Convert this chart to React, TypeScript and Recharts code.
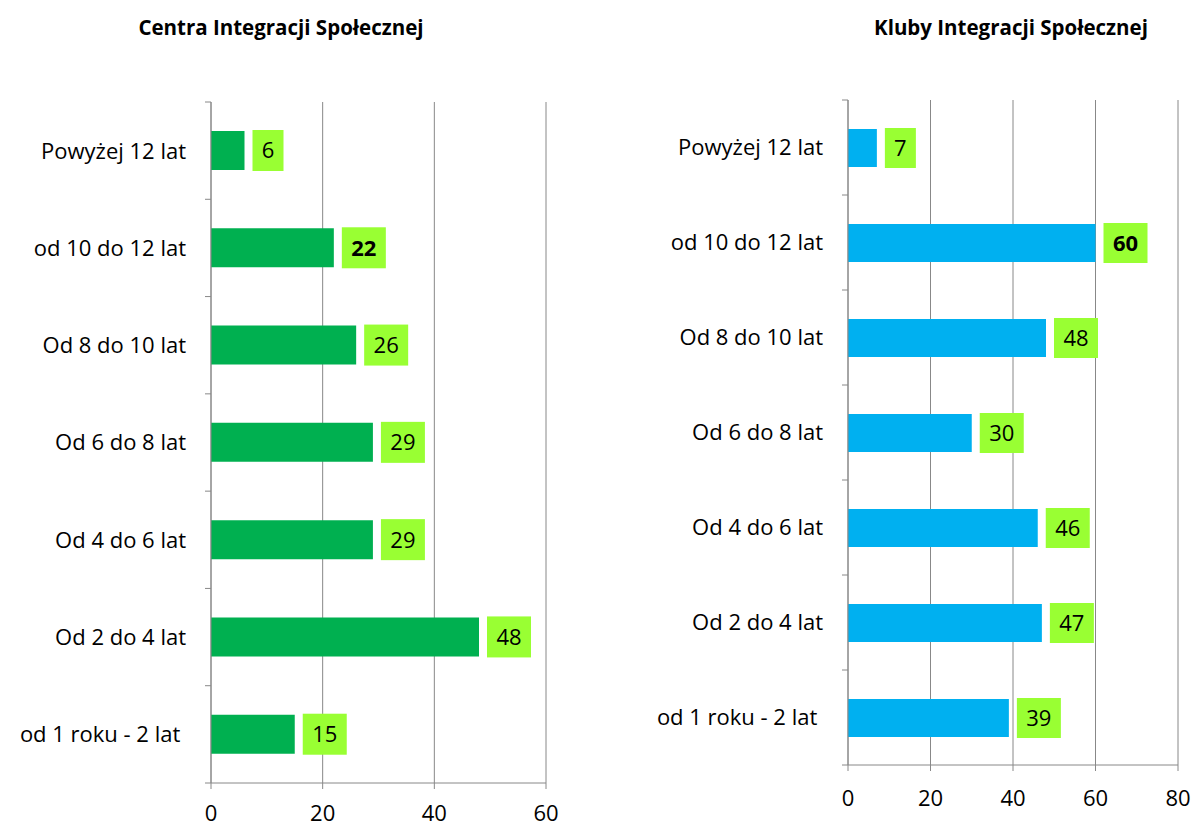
import { BarChart, Bar, XAxis, YAxis, CartesianGrid, LabelList } from 'recharts';

const categories = [
  'Powyżej 12 lat',
  'od 10 do 12 lat',
  'Od 8 do 10 lat',
  'Od 6 do 8 lat',
  'Od 4 do 6 lat',
  'Od 2 do 4 lat',
  'od 1 roku - 2 lat\u00a0',
];
const centraValues = [6, 22, 26, 29, 29, 48, 15];
const klubyValues = [7, 60, 48, 30, 46, 47, 39];
const centraBold = ['od 10 do 12 lat'];
const klubyBold = ['od 10 do 12 lat'];
const centraTicks = [0, 20, 40, 60];
const klubyTicks = [0, 20, 40, 60, 80];

const FONT = '"Open Sans", Lato, sans-serif';
const FS = 22;
const GRID = '#888888';
const LABEL_BG = '#99FF33';

const centraData = categories.map((name, i) => ({ name, value: centraValues[i] }));
const klubyData = categories.map((name, i) => ({ name, value: klubyValues[i] }));

// category tick: label plus the short tick marks between bands
function CategoryTick(props: any) {
  const { x, y, payload, index, visibleTicksCount, gap, fallbackHalf } = props;
  const half = payload && payload.offset ? payload.offset : fallbackHalf;
  const axisX = x + gap;
  return (
    <g>
      <text x={x} y={y} dy="0.36em" textAnchor="end" fontSize={FS} fontFamily={FONT} fill="#000">
        {payload.value}
      </text>
      <line x1={axisX - 6} x2={axisX} y1={y - half} y2={y - half} stroke={GRID} />
      {index === visibleTicksCount - 1 && (
        <line x1={axisX - 6} x2={axisX} y1={y + half} y2={y + half} stroke={GRID} />
      )}
    </g>
  );
}

function makeValueLabel(data: { name: string }[], bold: string[]) {
  return (props: any) => {
    const { x, y, width, height, value, index } = props;
    const txt = String(value);
    const w = txt.length > 1 ? 44 : 31;
    const bx = x + width + 8;
    const isBold = bold.includes(data[index]?.name);
    return (
      <g>
        <rect x={bx} y={y - 1} width={w} height={height + 2} fill={LABEL_BG} />
        <text
          x={bx + w / 2}
          y={y + height / 2}
          dy="0.36em"
          textAnchor="middle"
          fontSize={FS}
          fontFamily={FONT}
          fontWeight={isBold ? 700 : 400}
          fill="#000"
        >
          {txt}
        </text>
      </g>
    );
  };
}

interface PanelProps {
  title: string;
  titleX: number;
  left: number;
  width: number;
  top: number;
  bottom: number;
  right: number;
  axisWidth: number;
  data: { name: string; value: number }[];
  ticks: number[];
  color: string;
  bold: string[];
  barSize: number;
  tickMargin: number;
}

function Panel({ title, titleX, left, width, top, bottom, right, axisWidth, data, ticks, color, bold, barSize, tickMargin }: PanelProps) {
  const height = 828;
  const half = (height - top - bottom) / data.length / 2;
  return (
    <div style={{ position: 'absolute', left, top: 0, width, height }}>
      <div
        style={{
          position: 'absolute',
          left: titleX - left - 200,
          width: 400,
          top: 13,
          textAlign: 'center',
          fontFamily: FONT,
          fontWeight: 700,
          fontSize: 20.5,
          color: '#000',
        }}
      >
        {title}
      </div>
      <BarChart
        layout="vertical"
        width={width}
        height={height}
        data={data}
        margin={{ top, right, bottom: 0, left: 0 }}
      >
        <CartesianGrid vertical horizontal={false} stroke={GRID} />
        <XAxis
          type="number"
          domain={[ticks[0], ticks[ticks.length - 1]]}
          ticks={ticks}
          interval={0}
          height={bottom}
          stroke={GRID}
          tickSize={6}
          tickMargin={tickMargin}
          tick={{ fill: '#000', fontSize: FS, fontFamily: FONT }}
        />
        <YAxis
          type="category"
          dataKey="name"
          width={axisWidth}
          stroke={GRID}
          tickLine={false}
          tickSize={0}
          tickMargin={25}
          interval={0}
          tick={<CategoryTick gap={25} fallbackHalf={half} />}
        />
        <Bar dataKey="value" fill={color} barSize={barSize} isAnimationActive={false}>
          <LabelList dataKey="value" content={makeValueLabel(data, bold)} />
        </Bar>
      </BarChart>
    </div>
  );
}

export default function App() {
  return (
    <div style={{ position: 'absolute', left: 0, top: 0, width: 1194, height: 828, background: '#fff' }}>
      <Panel
        title="Centra Integracji Społecznej"
        titleX={281}
        left={0}
        width={600}
        top={102}
        bottom={45}
        right={54}
        axisWidth={211}
        data={centraData}
        ticks={centraTicks}
        color="#00B050"
        bold={centraBold}
        barSize={39}
        tickMargin={16}
      />
      <Panel
        title="Kluby Integracji Społecznej"
        titleX={1011}
        left={600}
        width={594}
        top={100}
        bottom={63}
        right={16}
        axisWidth={248}
        data={klubyData}
        ticks={klubyTicks}
        color="#00B0F0"
        bold={klubyBold}
        barSize={38}
        tickMargin={19}
      />
    </div>
  );
}
